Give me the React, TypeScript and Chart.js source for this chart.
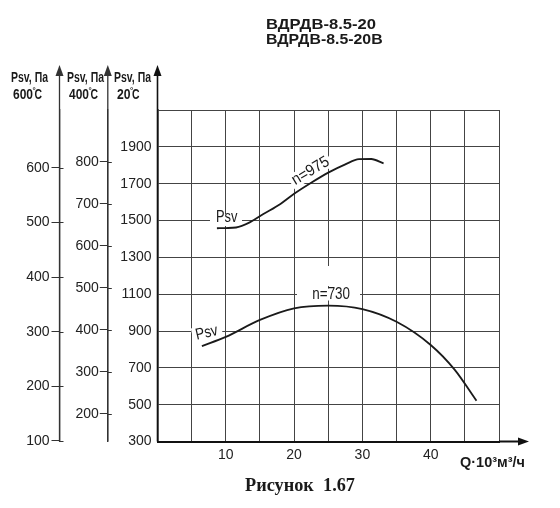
import { useEffect, useRef } from "react";
import { Chart, registerables } from "chart.js";

Chart.register(...registerables);

// ---- data ----
const Q_975 = [8.7, 10, 11.5, 13.5, 15.5, 18, 20, 22.5, 25, 27.5, 29.5, 31.3, 33.1];
const PSV_975 = [1458, 1459, 1462, 1490, 1535, 1590, 1645, 1705, 1760, 1805, 1833, 1834, 1810];

const Q_730 = [6.5, 10, 15, 20, 25, 30, 35, 40, 43.5, 46.7];
const PSV_730 = [818, 868, 960, 1023, 1038, 1019, 950, 824, 690, 521];

const X_TICK_LABELS = [10, 20, 30, 40];
const TICKS_20C = [300, 500, 700, 900, 1100, 1300, 1500, 1700, 1900];
const TICKS_400C = [200, 300, 400, 500, 600, 700, 800];
const TICKS_600C = [100, 200, 300, 400, 500, 600];

const SANS = '"Liberation Sans", Arial, sans-serif';
const SERIF = '"Liberation Serif", "Times New Roman", serif';
const INK = "#1a1a1a";

function drawFit(
  ctx: CanvasRenderingContext2D,
  text: string,
  cx: number,
  cy: number,
  font: string,
  width: number,
  angle = 0
) {
  ctx.save();
  ctx.font = font;
  const w = ctx.measureText(text).width || 1;
  ctx.translate(cx, cy);
  ctx.rotate((angle * Math.PI) / 180);
  ctx.scale(width / w, 1);
  ctx.fillStyle = INK;
  ctx.textAlign = "center";
  ctx.textBaseline = "middle";
  ctx.fillText(text, 0, 0);
  ctx.restore();
}

// temperature line: number, small raised degree ring, then "C"
function drawTemp(ctx: CanvasRenderingContext2D, num: string, left: number, cy: number, numWidth: number) {
  ctx.save();
  ctx.fillStyle = INK;
  ctx.textBaseline = "middle";
  ctx.textAlign = "left";
  ctx.font = `bold 14px ${SANS}`;
  const w = ctx.measureText(num).width || 1;
  ctx.save();
  ctx.translate(left, cy);
  ctx.scale(numWidth / w, 1);
  ctx.fillText(num, 0, 0);
  ctx.restore();
  ctx.font = `bold 8px ${SANS}`;
  ctx.fillText("°", left + numWidth - 0.5, cy - 4);
  ctx.font = `bold 14px ${SANS}`;
  const cw = ctx.measureText("C").width;
  ctx.save();
  ctx.translate(left + numWidth + 1.5, cy);
  ctx.scale(7.5 / cw, 1);
  ctx.fillText("C", 0, 0);
  ctx.restore();
  ctx.restore();
}

function whiteRect(
  ctx: CanvasRenderingContext2D,
  cx: number,
  cy: number,
  w: number,
  h: number,
  angle = 0
) {
  ctx.save();
  ctx.translate(cx, cy);
  ctx.rotate((angle * Math.PI) / 180);
  ctx.fillStyle = "#ffffff";
  ctx.fillRect(-w / 2, -h / 2, w, h);
  ctx.restore();
}

const decorPlugin = {
  id: "decor",
  beforeDatasetsDraw(chart: any) {
    const ctx = chart.ctx as CanvasRenderingContext2D;
    const xs = chart.scales.x;
    const ys = chart.scales.y;
    // gaps in the grid behind curve labels
    whiteRect(ctx, 226, 220, 32, 12);
    whiteRect(ctx, 207, 332, 30, 14, -13);
    whiteRect(ctx, 328.5, 294.5, 63, 12);
    whiteRect(ctx, 310.5, 171, 46, 15, -31);
    // small break in the Q=25 line
    const x25 = xs.getPixelForValue(25);
    const yA = ys.getPixelForValue(1253);
    const yB = ys.getPixelForValue(1144);
    ctx.save();
    ctx.fillStyle = "#fff";
    ctx.fillRect(x25 - 2, yA, 4, yB - yA);
    ctx.restore();
  },
  afterDraw(chart: any) {
    const ctx = chart.ctx as CanvasRenderingContext2D;
    const area = chart.chartArea;
    const tipY = 65;

    const drawUpArrow = (x: number, from: number, color: string, lw: number) => {
      ctx.save();
      ctx.strokeStyle = color;
      ctx.fillStyle = color;
      ctx.lineWidth = lw;
      ctx.beginPath();
      ctx.moveTo(x, from);
      ctx.lineTo(x, tipY + 8);
      ctx.stroke();
      ctx.beginPath();
      ctx.moveTo(x, tipY);
      ctx.lineTo(x - 4, tipY + 11);
      ctx.lineTo(x + 4, tipY + 11);
      ctx.closePath();
      ctx.fill();
      ctx.restore();
    };

    const s600 = chart.scales.y600;
    const s400 = chart.scales.y400;
    const s20 = chart.scales.y;
    drawUpArrow(s600.right, s600.bottom, "#333", 1.3);
    drawUpArrow(s400.right, s400.bottom, "#333", 1.3);
    drawUpArrow(s20.right, s20.bottom, "#111", 1.6);

    // ticks crossing to the right of the extra axes
    ctx.save();
    ctx.strokeStyle = "#333";
    ctx.lineWidth = 1;
    for (const [sc, vals] of [
      [s600, TICKS_600C],
      [s400, TICKS_400C],
    ] as [any, number[]][]) {
      for (const v of vals) {
        const py = Math.round(sc.getPixelForValue(v)) + 0.5;
        ctx.beginPath();
        ctx.moveTo(sc.right, py);
        ctx.lineTo(sc.right + 4, py);
        ctx.stroke();
      }
    }
    ctx.restore();

    // x axis arrow
    ctx.save();
    ctx.strokeStyle = "#111";
    ctx.fillStyle = "#111";
    ctx.lineWidth = 2;
    const by = area.bottom;
    ctx.beginPath();
    ctx.moveTo(area.right, by);
    ctx.lineTo(521, by);
    ctx.stroke();
    ctx.beginPath();
    ctx.moveTo(529, by);
    ctx.lineTo(518, by - 4);
    ctx.lineTo(518, by + 4);
    ctx.closePath();
    ctx.fill();
    ctx.restore();

    // titles and captions
    const bold14 = `bold 14px ${SANS}`;
    drawFit(ctx, "ВДРДВ-8.5-20", 321, 25.5, bold14, 110);
    drawFit(ctx, "ВДРДВ-8.5-20В", 324.3, 40, bold14, 116.7);

    const boldH = `bold 14px ${SANS}`;
    drawFit(ctx, "Psv, Па", 29.5, 78, boldH, 37);
    drawTemp(ctx, "600", 13, 95, 20);
    drawFit(ctx, "Psv, Па", 85.5, 78, boldH, 37);
    drawTemp(ctx, "400", 69, 95, 20);
    drawFit(ctx, "Psv, Па", 132.5, 78, boldH, 37);
    drawTemp(ctx, "20", 117, 95, 13.5);

    drawFit(ctx, "Q·10³м³/ч", 492.5, 463, `bold 14px ${SANS}`, 65);
    drawFit(ctx, "Рисунок  1.67", 300, 486, `bold 18px ${SERIF}`, 110);

    const lab = `16px ${SANS}`;
    drawFit(ctx, "Psv", 226.7, 218, lab, 21.5);
    drawFit(ctx, "n=975", 310.5, 171, lab, 41, -31);
    drawFit(ctx, "n=730", 331.2, 294.5, lab, 37.7);
    drawFit(ctx, "Psv", 206.7, 333, lab, 22.5, -13);
  },
};

export default function App() {
  const ref = useRef<HTMLCanvasElement | null>(null);

  useEffect(() => {
    if (!ref.current) return;
    const tickFont = { family: SANS, size: 14 };
    const chart = new Chart(ref.current, {
      type: "line",
      data: {
        datasets: [
          {
            label: "n=975",
            data: Q_975.map((q, i) => ({ x: q, y: PSV_975[i] })),
            borderColor: INK,
            borderWidth: 1.8,
            pointRadius: 0,
            cubicInterpolationMode: "monotone",
            fill: false,
            yAxisID: "y",
          },
          {
            label: "n=730",
            data: Q_730.map((q, i) => ({ x: q, y: PSV_730[i] })),
            borderColor: INK,
            borderWidth: 1.8,
            pointRadius: 0,
            cubicInterpolationMode: "monotone",
            fill: false,
            yAxisID: "y",
          },
        ],
      },
      options: {
        responsive: false,
        animation: false,
        events: [],
        layout: { padding: { left: 0, top: 110, right: 61, bottom: 36.5 } },
        plugins: {
          legend: { display: false },
          title: { display: false },
          tooltip: { enabled: false },
        },
        scales: {
          x: {
            type: "linear",
            min: 0,
            max: 50,
            afterFit: (s: any) => {
              s.height = 30;
            },
            ticks: {
              stepSize: 5,
              autoSkip: false,
              maxRotation: 0,
              color: "#222",
              font: tickFont,
              padding: 5,
              callback: (v: any) => (X_TICK_LABELS.includes(Number(v)) ? String(v) : ""),
            },
            grid: { color: "#444", lineWidth: 1, drawTicks: false },
            border: { color: "#111", width: 2 },
          },
          y: {
            type: "linear",
            position: "left",
            weight: 0,
            min: 300,
            max: 2100,
            afterFit: (s: any) => {
              s.width = 49.7;
            },
            afterBuildTicks: (s: any) => {
              s.ticks = [...TICKS_20C, 2100].map((v) => ({ value: v }));
            },
            ticks: {
              color: "#222",
              font: tickFont,
              padding: 6,
              callback: (v: any) => (TICKS_20C.includes(Number(v)) ? String(v) : ""),
            },
            grid: { color: "#444", lineWidth: 1, drawTicks: false },
            border: { color: "#111", width: 1.6 },
          },
          y400: {
            type: "linear",
            position: "left",
            weight: 1,
            min: 134.5,
            max: 923.8,
            afterFit: (s: any) => {
              s.width = 48.3;
            },
            afterBuildTicks: (s: any) => {
              s.ticks = TICKS_400C.map((v) => ({ value: v }));
            },
            ticks: {
              color: "#222",
              font: tickFont,
              padding: 1,
              callback: (v: any) => String(v),
            },
            grid: { drawOnChartArea: false, color: "#333", tickLength: 8, lineWidth: 1 },
            border: { color: "#333", width: 1.3 },
          },
          y600: {
            type: "linear",
            position: "left",
            weight: 2,
            min: 99,
            max: 705.8,
            afterFit: (s: any) => {
              s.width = 59.5;
            },
            afterBuildTicks: (s: any) => {
              s.ticks = TICKS_600C.map((v) => ({ value: v }));
            },
            ticks: {
              color: "#222",
              font: tickFont,
              padding: 2,
              callback: (v: any) => String(v),
            },
            grid: { drawOnChartArea: false, color: "#333", tickLength: 8, lineWidth: 1 },
            border: { color: "#333", width: 1.3 },
          },
        },
      } as any,
      plugins: [decorPlugin],
    });
    return () => chart.destroy();
  }, []);

  return (
    <div style={{ position: "fixed", left: 0, top: 0, width: 560, height: 508, background: "#fff" }}>
      <canvas ref={ref} width={560} height={508} style={{ display: "block", width: 560, height: 508 }} />
    </div>
  );
}
